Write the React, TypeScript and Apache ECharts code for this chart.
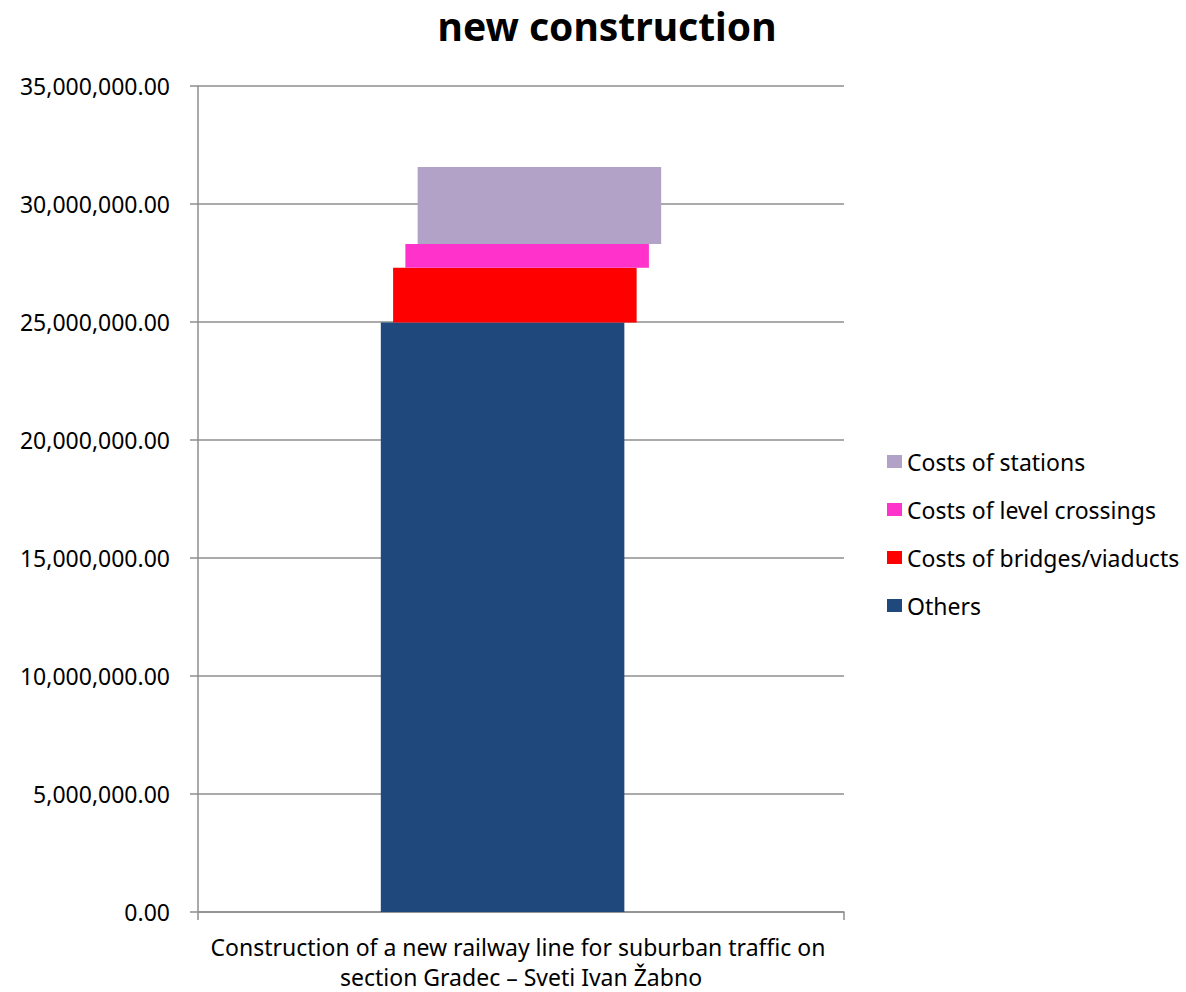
import React, { useEffect, useRef } from "react";
import * as echarts from "echarts";

const categories = [
  "Construction of a new railway line for suburban traffic on section Gradec – Sveti Ivan Žabno",
];
const seriesNames = [
  "Others",
  "Costs of bridges/viaducts",
  "Costs of level crossings",
  "Costs of stations",
];
const others = [24980000];
const bridges = [2320000];
const levelCrossings = [1000000];
const stations = [3270000];
const seriesColors = ["#1f497d", "#ff0000", "#ff33cc", "#b3a2c7"];
const yTicks = { min: 0, max: 35000000, interval: 5000000 };

const FONT = "Noto Sans";

export default function App() {
  const ref = useRef<HTMLDivElement>(null);
  useEffect(() => {
    document.body.style.margin = "0";
    if (!ref.current) return;
    const chart = echarts.init(ref.current, undefined, { renderer: "svg" });
    const valueSets = [others, bridges, levelCrossings, stations];
    const cumulative = categories.map(() => 0);
    const series = valueSets.map((vals, idx) => {
      const data = vals.map((v, ci) => {
        const base = cumulative[ci];
        cumulative[ci] = base + v;
        return [ci, base, base + v];
      });
      return {
        type: "custom",
        name: seriesNames[idx],
        itemStyle: { color: seriesColors[idx] },
        encode: { x: 0, y: [1, 2] },
        data,
        renderItem: (params: any, api: any) => {
          const ci = api.value(0);
          const p0 = api.coord([ci, api.value(1)]);
          const p1 = api.coord([ci, api.value(2)]);
          const band = api.size([1, 0])[0];
          const w = band * 0.377;
          const step = band * 0.019;
          const x = p0[0] - (w + 3 * step) / 2 + idx * step;
          return {
            type: "rect",
            shape: { x, y: p1[1], width: w, height: p0[1] - p1[1] },
            style: { fill: seriesColors[idx] },
          };
        },
      };
    });
    chart.setOption({
      animation: false,
      backgroundColor: "#ffffff",
      title: {
        text: "new construction",
        left: 602,
        textAlign: "center",
        top: 1,
        textStyle: { fontFamily: FONT, fontWeight: "bold", fontSize: 39, color: "#000" },
      },
      legend: {
        orient: "vertical",
        left: 882,
        top: 445,
        icon: "rect",
        itemWidth: 15,
        itemHeight: 13,
        itemGap: 25,
        data: [...seriesNames].reverse(),
        textStyle: { fontFamily: FONT, fontSize: 23, color: "#000" },
      },
      grid: { left: 198, right: 342, top: 86, bottom: 80, outerBoundsMode: "none" },
      xAxis: {
        type: "category",
        data: categories,
        axisLine: { lineStyle: { color: "#8e8e8e", width: 1.5 } },
        axisTick: { show: true, length: 8, lineStyle: { color: "#8e8e8e", width: 1.5 } },
        axisLabel: {
          fontFamily: FONT,
          fontSize: 23,
          color: "#000",
          width: 630,
          overflow: "break",
          lineHeight: 30,
          margin: 20,
        },
      },
      yAxis: {
        type: "value",
        min: yTicks.min,
        max: yTicks.max,
        interval: yTicks.interval,
        axisLine: { show: true, lineStyle: { color: "#8e8e8e", width: 1.5 } },
        axisTick: { show: true, length: 8, lineStyle: { color: "#8e8e8e", width: 1.5 } },
        splitLine: { lineStyle: { color: "#8e8e8e", width: 1.5 } },
        axisLabel: {
          fontFamily: FONT,
          fontSize: 23,
          color: "#000",
          margin: 28,
          formatter: (v: number) =>
            v.toLocaleString("en-US", { minimumFractionDigits: 2, maximumFractionDigits: 2 }),
        },
      },
      series,
    });
    return () => chart.dispose();
  }, []);
  return <div ref={ref} style={{ width: 1186, height: 992 }} />;
}
